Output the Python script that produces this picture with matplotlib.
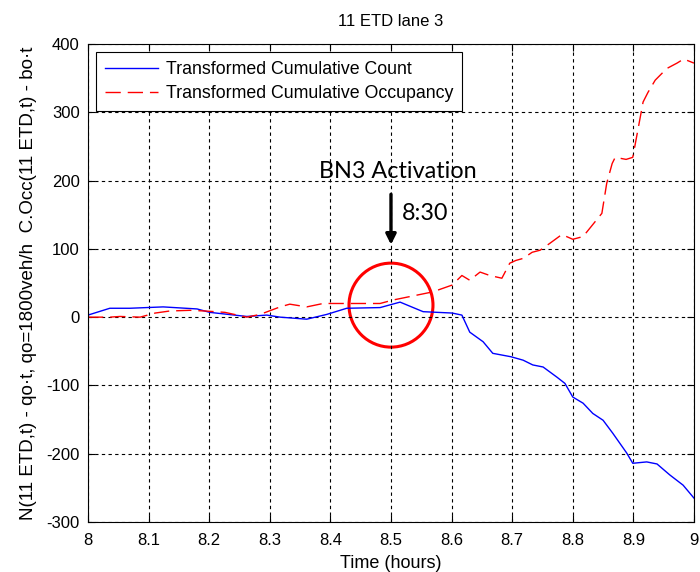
import matplotlib
matplotlib.use('Agg')
import matplotlib.pyplot as plt
from matplotlib.patches import Ellipse

plt.rcParams['font.family'] = ['Liberation Sans', 'DejaVu Sans']
plt.rcParams['axes.unicode_minus'] = False

# transformed cumulative count (blue)
count_time = [8.0, 8.036, 8.069, 8.124, 8.180, 8.201, 8.262, 8.295, 8.317, 8.361,
              8.394, 8.427, 8.482, 8.515, 8.553, 8.601, 8.617, 8.630, 8.652, 8.668,
              8.698, 8.718, 8.734, 8.751, 8.774, 8.787, 8.800, 8.817, 8.833, 8.850,
              8.866, 8.889, 8.899, 8.922, 8.939, 8.960, 8.982, 9.0]
count_vals = [3, 13, 13, 15, 12, 7, 1, 3, 0, -3,
              4, 13, 14, 22, 8, 6, 3, -22, -36, -53,
              -58, -63, -70, -73, -88, -97, -117, -126, -141, -151,
              -170, -199, -214, -212, -215, -231, -246, -265]

# transformed cumulative occupancy (red)
occ_time = [8.0, 8.036, 8.053, 8.086, 8.111, 8.135, 8.168, 8.193, 8.226, 8.262,
            8.284, 8.317, 8.333, 8.361, 8.388, 8.427, 8.482, 8.503, 8.536, 8.569,
            8.601, 8.617, 8.630, 8.647, 8.663, 8.683, 8.696, 8.706, 8.718, 8.733,
            8.746, 8.762, 8.782, 8.800, 8.817, 8.848, 8.856, 8.865, 8.870, 8.888,
            8.899, 8.916, 8.924, 8.936, 8.955, 8.972, 8.983, 9.0]
occ_vals = [0, 0, 1, 0, 6, 9, 10, 9, 7, 0,
            4, 15, 19, 15, 20, 20, 20, 25, 31, 37,
            47, 61, 54, 66, 61, 57, 79, 83, 86, 95,
            98, 108, 121, 114, 118, 152, 196, 225, 234, 231,
            234, 315, 329, 347, 364, 372, 378, 372]

x_ticks = [8, 8.1, 8.2, 8.3, 8.4, 8.5, 8.6, 8.7, 8.8, 8.9, 9]
x_labels = ['8', '8.1', '8.2', '8.3', '8.4', '8.5', '8.6', '8.7', '8.8', '8.9', '9']
y_ticks = [-300, -200, -100, 0, 100, 200, 300, 400]

fig = plt.figure(figsize=(7, 5.72), dpi=100)
ax = fig.add_axes([0.1257, 0.0874, 0.8657, 0.8357])

ax.plot(count_time, count_vals, color='#0000ff', lw=1.0,
        label='Transformed Cumulative Count')
ax.plot(occ_time, occ_vals, color='#ff0000', lw=1.0, dashes=(11, 5),
        label='Transformed Cumulative Occupancy')

ax.set_xlim(8, 9)
ax.set_ylim(-300, 400)
ax.set_xticks(x_ticks)
ax.set_xticklabels(x_labels)
ax.set_yticks(y_ticks)
ax.tick_params(direction='in', top=True, right=True, labelsize=12, length=5)
ax.tick_params(axis='x', pad=8)
ax.tick_params(axis='y', pad=6)
ax.grid(True, color='black', linestyle=(0, (3, 3)), lw=0.8)
for s in ax.spines.values():
    s.set_linewidth(0.8)

ax.set_title('11 ETD lane 3', fontsize=12, pad=13)
ax.set_xlabel('Time (hours)', fontsize=13, labelpad=5)
ax.set_ylabel('N(11 ETD,t) - qo\u00b7t, qo=1800veh/h  C.Occ(11 ETD,t) - bo\u00b7t',
              fontsize=13.5, labelpad=7)

leg = ax.legend(loc='upper left', fontsize=12.8, fancybox=False, framealpha=1,
                edgecolor='black', handlelength=3.0, handletextpad=0.45,
                borderpad=0.5, labelspacing=0.4, borderaxespad=0.45)
leg.get_frame().set_linewidth(0.8)

# activation annotation
ax.add_patch(Ellipse((8.5, 17.6), 0.1386, 123, fill=False, edgecolor='#ff0000', lw=2.2))
ax.annotate('', xy=(8.5, 102), xytext=(8.5, 184),
            arrowprops=dict(arrowstyle='-|>', color='black', lw=2.4, mutation_scale=15))
ax.text(8.512, 214, 'BN3 Activation', ha='center', va='center', fontsize=16.8,
        family=['Lato', 'DejaVu Sans'])
ax.text(8.518, 152, '8:30', ha='left', va='center', fontsize=16.8,
        family=['Lato', 'DejaVu Sans'])

fig.savefig('out.png', dpi=100)
